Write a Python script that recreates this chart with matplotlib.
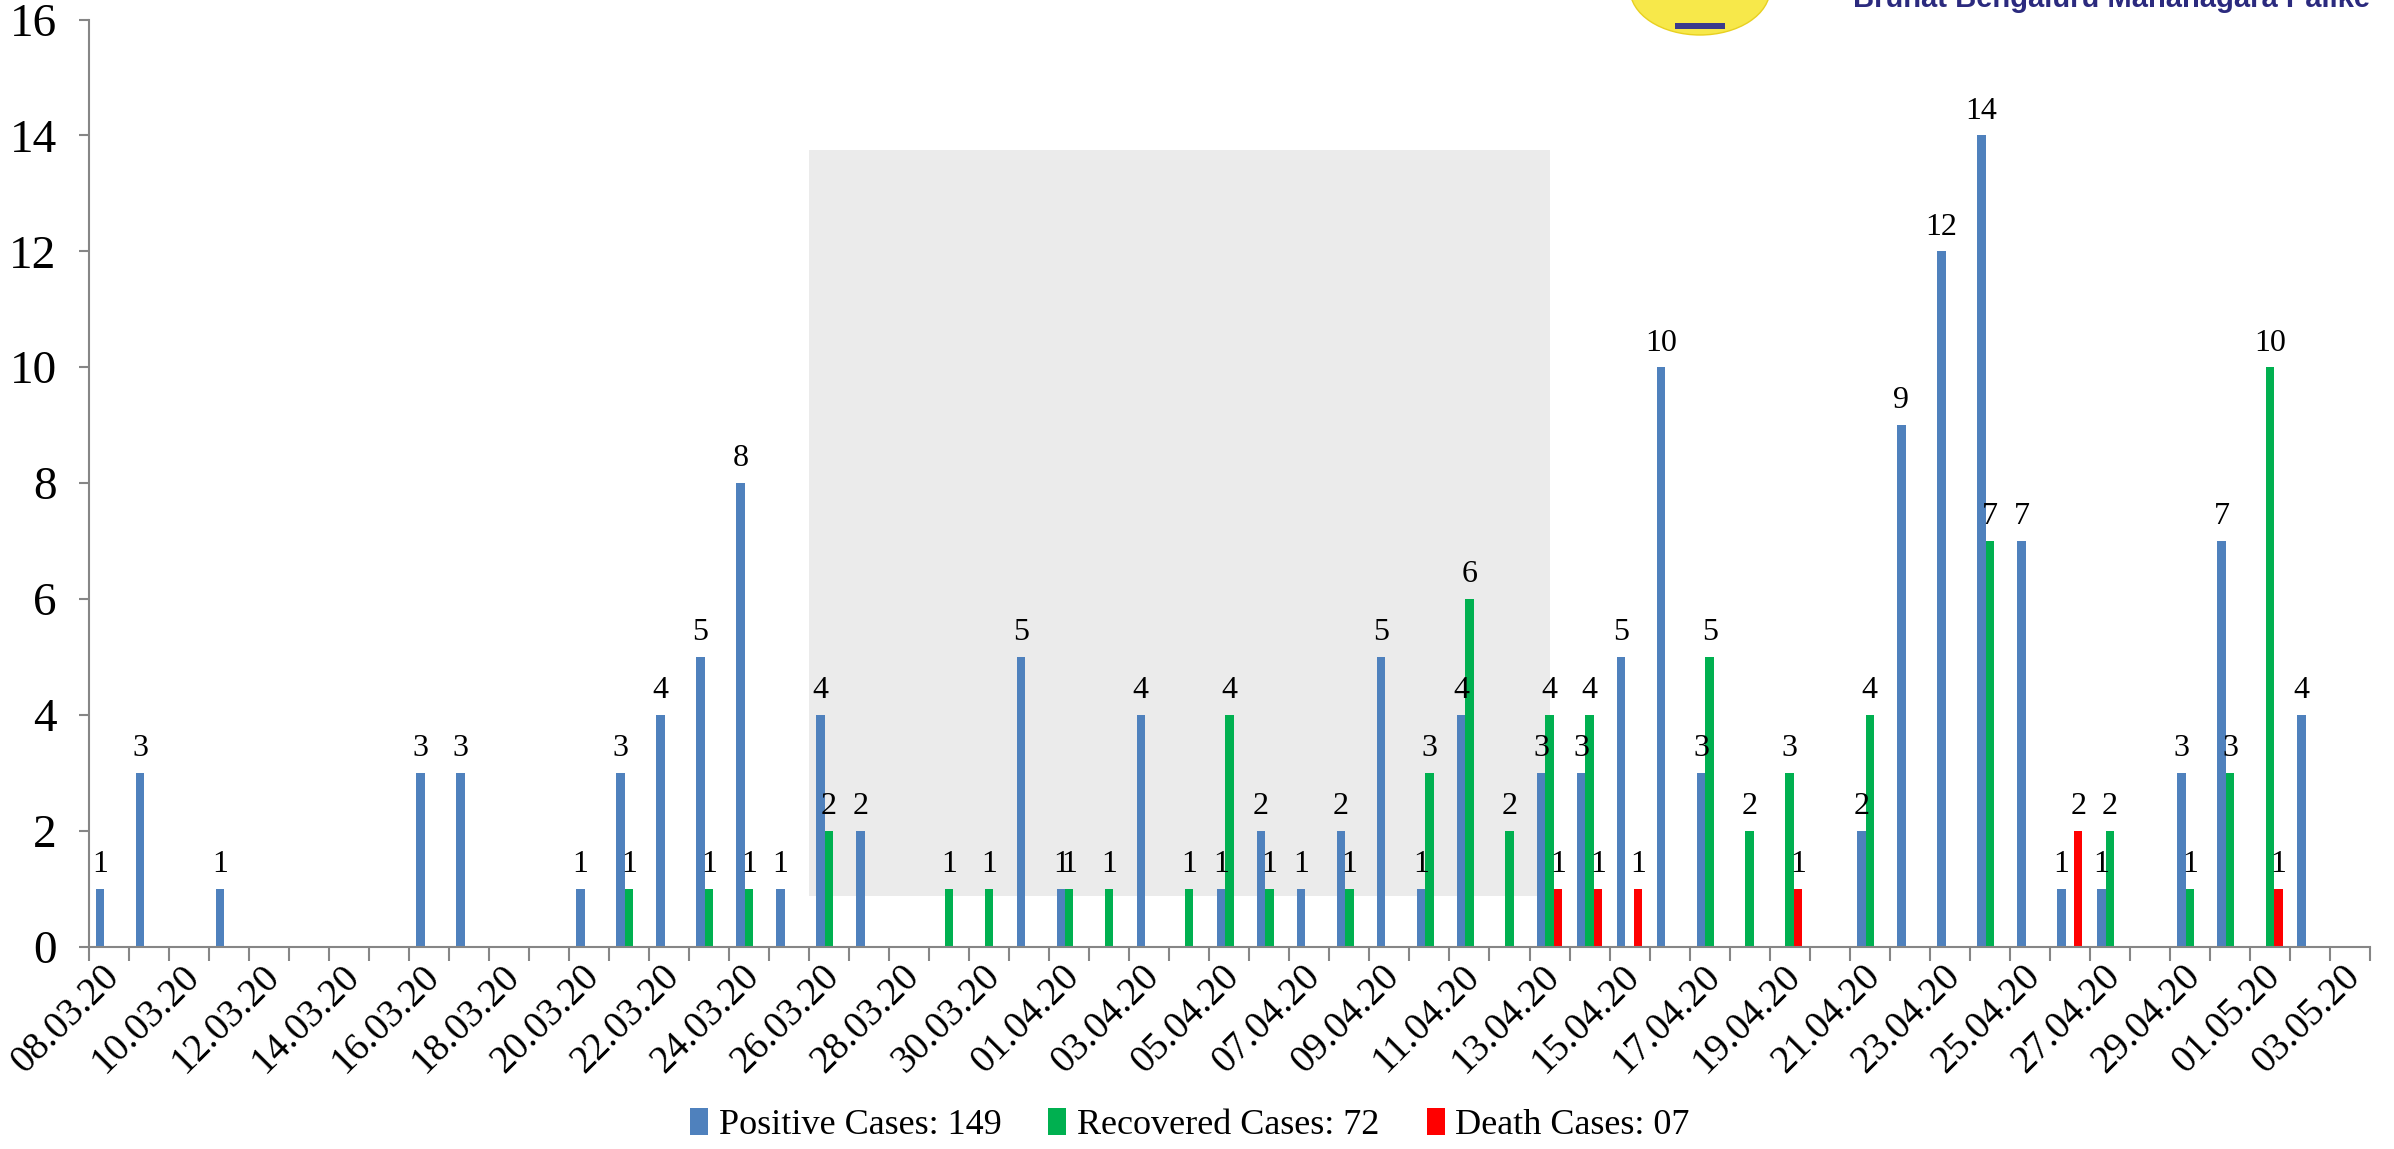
import matplotlib
matplotlib.use('Agg')
import matplotlib.pyplot as plt
import matplotlib.transforms as mtransforms
import numpy as np
from matplotlib.patches import Rectangle, Ellipse

plt.rcParams['font.family'] = ['Liberation Serif', 'DejaVu Serif']

# daily dates 08.03.20 .. 03.05.20
dates = ['08.03.20', '09.03.20', '10.03.20', '11.03.20', '12.03.20', '13.03.20', '14.03.20',
         '15.03.20', '16.03.20', '17.03.20', '18.03.20', '19.03.20', '20.03.20', '21.03.20',
         '22.03.20', '23.03.20', '24.03.20', '25.03.20', '26.03.20', '27.03.20', '28.03.20',
         '29.03.20', '30.03.20', '31.03.20', '01.04.20', '02.04.20', '03.04.20', '04.04.20',
         '05.04.20', '06.04.20', '07.04.20', '08.04.20', '09.04.20', '10.04.20', '11.04.20',
         '12.04.20', '13.04.20', '14.04.20', '15.04.20', '16.04.20', '17.04.20', '18.04.20',
         '19.04.20', '20.04.20', '21.04.20', '22.04.20', '23.04.20', '24.04.20', '25.04.20',
         '26.04.20', '27.04.20', '28.04.20', '29.04.20', '30.04.20', '01.05.20', '02.05.20',
         '03.05.20']

positive = [1, 3, 0, 1, 0, 0, 0, 0, 3, 3, 0, 0, 1, 3, 4, 5, 8, 1, 4, 2, 0,
            0, 0, 5, 1, 0, 4, 0, 1, 2, 1, 2, 5, 1, 4, 0, 3, 3, 5, 10, 3, 0,
            0, 0, 2, 9, 12, 14, 7, 1, 1, 0, 3, 7, 0, 4, 0]
recovered = [0, 0, 0, 0, 0, 0, 0, 0, 0, 0, 0, 0, 0, 1, 0, 1, 1, 0, 2, 0, 0,
             1, 1, 0, 1, 1, 0, 1, 4, 1, 0, 1, 0, 3, 6, 2, 4, 4, 0, 0, 5, 2,
             3, 0, 4, 0, 0, 7, 0, 0, 2, 0, 1, 3, 10, 0, 0]
deaths = [0, 0, 0, 0, 0, 0, 0, 0, 0, 0, 0, 0, 0, 0, 0, 0, 0, 0, 0, 0, 0,
          0, 0, 0, 0, 0, 0, 0, 0, 0, 0, 0, 0, 0, 0, 0, 1, 1, 1, 0, 0, 0,
          1, 0, 0, 0, 0, 0, 0, 2, 0, 0, 0, 0, 1, 0, 0]

series = [('Positive Cases: 149', positive, '#4F81BD'),
          ('Recovered Cases: 72', recovered, '#00B050'),
          ('Death Cases: 07', deaths, '#FF0000')]

fig = plt.figure(figsize=(23.94, 11.49), dpi=100)
ax = fig.add_axes([0.037, 0.176, 0.953, 0.807])

x = np.arange(len(dates))
w = 0.21

# grey watermark panel behind the bars
ax.add_patch(Rectangle((17.5, 0.875), 18.5, 12.875, facecolor='#EBEBEB',
                       edgecolor='none', zorder=0))

for k, (name, vals, col) in enumerate(series):
    pos = x + (k - 1) * w
    ax.bar(pos, vals, w, color=col, label=name, zorder=2)
    for xx, v in zip(pos, vals):
        if v > 0:
            ax.annotate(str(v), (xx, v), xytext=(0, 7), textcoords='offset points',
                        ha='center', va='bottom', fontsize=23)

ax.set_xlim(-0.5, len(dates) - 0.5)
ax.set_ylim(0, 16)
ax.set_yticks(np.arange(0, 17, 2))
ax.tick_params(axis='y', labelsize=34, color='#868686', length=7, width=1.5, pad=16)

ax.set_xticks(x[::2])
ax.set_xticklabels(dates[::2], rotation=45, ha='right', rotation_mode='anchor', fontsize=28)
ax.tick_params(axis='x', length=0, pad=8)
shift = mtransforms.ScaledTranslation(-8 / 100, 0, fig.dpi_scale_trans)
for lab in ax.get_xticklabels():
    lab.set_transform(lab.get_transform() + shift)
ax.set_xticks(np.arange(-0.5, len(dates), 1), minor=True)
ax.tick_params(axis='x', which='minor', length=10, color='#868686', width=1.5)

for s in ['top', 'right']:
    ax.spines[s].set_visible(False)
for s in ['left', 'bottom']:
    ax.spines[s].set_color('#868686')
    ax.spines[s].set_linewidth(1.5)

ax.legend(loc='lower center', bbox_to_anchor=(0.497, 0.006), bbox_transform=fig.transFigure,
          ncol=3, frameon=False, fontsize=26, handlelength=0.5, handleheight=0.8,
          handletextpad=0.3, columnspacing=1.3, borderaxespad=0.0, borderpad=0.0)

# logo piece cut at the top edge
fig.patches.append(Ellipse((1700 / 2394, 1160 / 1149), 140 / 2394, 92 / 1149,
                           transform=fig.transFigure, facecolor='#F7E84A',
                           edgecolor='#E8D020', zorder=5))
fig.patches.append(Rectangle((1675 / 2394, 1120 / 1149), 50 / 2394, 6 / 1149,
                             transform=fig.transFigure, facecolor='#3A3A8C', zorder=6))
fig.text(0.990, 0.9935, 'Bruhat Bengaluru Mahanagara Palike', family='Liberation Sans',
         fontsize=21, fontweight='bold', color='#2B2A7E', ha='right', va='baseline')

plt.savefig('out.png', dpi=100)
